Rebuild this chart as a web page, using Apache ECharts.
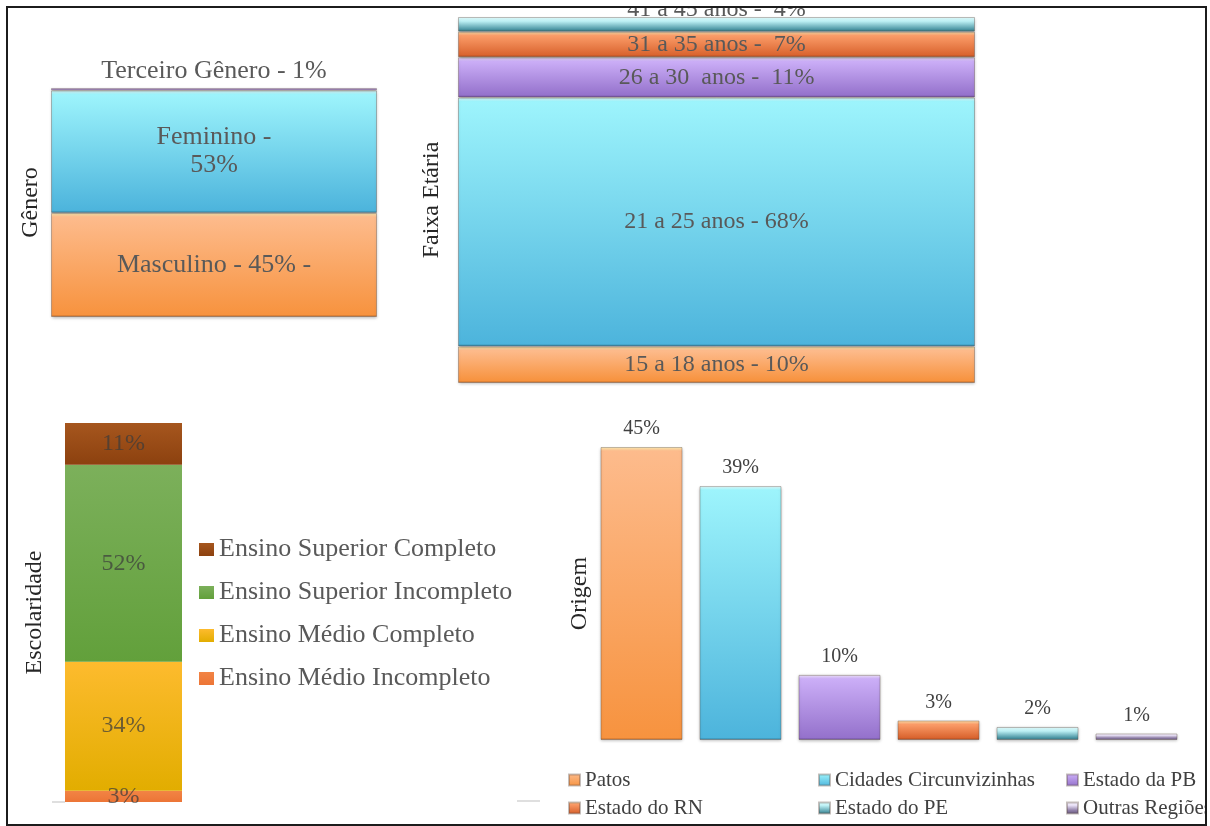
<!DOCTYPE html>
<html>
<head>
<meta charset="utf-8">
<script src="https://cdn.jsdelivr.net/npm/echarts@6/dist/echarts.min.js"></script>
<style>
  html, body { margin: 0; padding: 0; background: #ffffff; }
  #painel { width: 1210px; height: 826px; }
</style>
</head>
<body>
<div id="painel"></div>
<script>
// ---- Gênero (empilhado, de baixo para cima)
const generoCategorias = ['Masculino', 'Feminino', 'Terceiro Gênero'];
const generoValores = [45, 53, 1];
const generoRotulos = ['Masculino - {c}% -', 'Feminino -\n{c}%', 'Terceiro Gênero - {c}%'];

// ---- Faixa etária (empilhado, de baixo para cima)
const faixaCategorias = ['15 a 18 anos', '21 a 25 anos', '26 a 30 anos', '31 a 35 anos', '41 a 45 anos'];
const faixaValores = [10, 68, 11, 7, 4];
const faixaRotulos = ['15 a 18 anos - {c}%', '21 a 25 anos - {c}%', '26 a 30  anos -  {c}%', '31 a 35 anos -  {c}%', '41 a 45 anos -  {c}%'];

// ---- Escolaridade (empilhado, de baixo para cima)
const escolaridadeCategorias = ['Ensino Médio Incompleto', 'Ensino Médio Completo', 'Ensino Superior Incompleto', 'Ensino Superior Completo'];
const escolaridadeValores = [3, 34, 52, 11];

// ---- Origem (colunas)
const origemCategorias = ['Patos', 'Cidades Circunvizinhas', 'Estado da PB', 'Estado do RN', 'Estado do PE', 'Outras Regiões'];
const origemValores = [45, 39, 10, 3, 2, 1];

const SERIF = '"Liberation Serif", "DejaVu Serif", serif';
const soma = arr => arr.reduce((a, b) => a + b, 0);

// Áreas de plotagem
const GRADES = [
  { left: 51, top: 88, width: 326, height: 229 },
  { left: 458, top: 17, width: 517, height: 366 },
  { left: 65, top: 423, width: 117, height: 379 },
  { left: 592, top: 447, width: 594, height: 293 }
];
const maxGenero = soma(generoValores);
const maxFaixa = soma(faixaValores);
const maxEscolaridade = soma(escolaridadeValores);
const maxOrigem = Math.max(...origemValores);

// Tons com brilho no topo e borda escura na base
const TONS = {
  laranja:  ['#FFF2B4', '#FDBB8C', '#F7933F', '#C06A25'],
  ciano:    ['#E6FFFF', '#9DF4FC', '#4DB4DC', '#2F7F9E'],
  roxo:     ['#F2E6FF', '#CBAEF7', '#9572CC', '#6A4C96'],
  coral:    ['#FFE2AC', '#FB9C68', '#DA6530', '#A9481C'],
  petroleo: ['#E6FEFF', '#BFF2F6', '#4F98A6', '#36707C'],
  lavanda:  ['#FBF8FF', '#E8E0F6', '#8D7CA5', '#62557A']
};
// Gradiente com bisel de poucos pixels, independente da altura da barra
function bisel(t, alturaPx) {
  const topo = Math.min(0.3, 4 / Math.max(alturaPx, 1));
  const base = Math.max(0.7, 1 - 2.5 / Math.max(alturaPx, 1));
  return new echarts.graphic.LinearGradient(0, 0, 0, 1, [
    { offset: 0, color: t[0] },
    { offset: topo, color: t[1] },
    { offset: base, color: t[2] },
    { offset: 1, color: t[3] }
  ]);
}
function plano(topo, base) {
  return new echarts.graphic.LinearGradient(0, 0, 0, 1, [
    { offset: 0, color: topo }, { offset: 1, color: base }
  ]);
}
const estiloBarra = cor => ({
  color: cor,
  borderColor: 'rgba(90,70,60,0.35)',
  borderWidth: 1,
  shadowColor: 'rgba(0,0,0,0.25)',
  shadowBlur: 3,
  shadowOffsetY: 1
});

function eixoCategoria(gridIndex, data) {
  return { type: 'category', gridIndex, data, show: false, boundaryGap: true };
}
function eixoValor(gridIndex, max, name, nameGap) {
  return {
    type: 'value', gridIndex, min: 0, max,
    name, nameLocation: 'middle', nameRotate: 90, nameGap,
    nameTextStyle: { fontFamily: SERIF, fontSize: 24, color: '#262626' },
    axisLine: { show: false }, axisTick: { show: false },
    axisLabel: { show: false }, splitLine: { show: false }
  };
}

const series = [];

// Gênero
const generoTons = [TONS.laranja, TONS.ciano, TONS.roxo];
generoCategorias.forEach((nome, i) => {
  const px = generoValores[i] * GRADES[0].height / maxGenero;
  series.push({
    type: 'bar', name: nome, xAxisIndex: 0, yAxisIndex: 0, stack: 'genero',
    barWidth: '100%', data: [generoValores[i]],
    itemStyle: estiloBarra(bisel(generoTons[i], px)),
    label: {
      show: true, position: i === 2 ? 'top' : 'inside', distance: 3,
      formatter: generoRotulos[i], fontFamily: SERIF, fontSize: 26,
      lineHeight: 28, color: '#595959'
    }
  });
});

// Faixa etária
const faixaTons = [TONS.laranja, TONS.ciano, TONS.roxo, TONS.coral, TONS.petroleo];
faixaCategorias.forEach((nome, i) => {
  const px = faixaValores[i] * GRADES[1].height / maxFaixa;
  series.push({
    type: 'bar', name: nome, xAxisIndex: 1, yAxisIndex: 1, stack: 'faixa',
    barWidth: '100%', data: [faixaValores[i]],
    itemStyle: estiloBarra(bisel(faixaTons[i], px)),
    label: {
      show: true, position: 'inside', offset: i === 4 ? [0, -15] : [0, 0],
      formatter: faixaRotulos[i], fontFamily: SERIF, fontSize: 24, color: '#595959'
    }
  });
});

// Escolaridade
const escolaridadeCores = [
  plano('#F28445', '#EC7536'),
  plano('#FDBB2E', '#E2AD00'),
  plano('#7CB05B', '#62A03B'),
  plano('#A6561E', '#8C410F')
];
escolaridadeCategorias.forEach((nome, i) => {
  series.push({
    type: 'bar', name: nome, xAxisIndex: 2, yAxisIndex: 2, stack: 'escolaridade',
    barWidth: '100%', data: [escolaridadeValores[i]],
    itemStyle: { color: escolaridadeCores[i] },
    label: {
      show: true, position: 'inside', formatter: '{c}%',
      fontFamily: SERIF, fontSize: 24, color: 'rgba(60,60,60,0.72)'
    }
  });
});

// Origem
const origemTons = [TONS.laranja, TONS.ciano, TONS.roxo, TONS.coral, TONS.petroleo, TONS.lavanda];
origemCategorias.forEach((nome, i) => {
  const px = origemValores[i] * GRADES[3].height / maxOrigem;
  series.push({
    type: 'bar', name: nome, xAxisIndex: 3, yAxisIndex: 3,
    barWidth: 82, barGap: '-100%',
    data: origemCategorias.map((_, j) => (j === i ? origemValores[i] : '-')),
    itemStyle: estiloBarra(bisel(origemTons[i], px)),
    label: {
      show: true, position: 'top', distance: 8, formatter: '{c}%',
      fontFamily: SERIF, fontSize: 20, color: '#404040'
    }
  });
});

const legendaOrigem = (nomes, left) => ({
  data: nomes, orient: 'vertical', left, top: 764,
  icon: 'rect', itemWidth: 11, itemHeight: 11, itemGap: 6,
  selectedMode: false,
  textStyle: { fontFamily: SERIF, fontSize: 21, lineHeight: 22, color: '#404040' }
});

const option = {
  animation: false,
  backgroundColor: '#ffffff',
  grid: GRADES,
  xAxis: [
    eixoCategoria(0, ['']),
    eixoCategoria(1, ['']),
    eixoCategoria(2, ['']),
    eixoCategoria(3, origemCategorias)
  ],
  yAxis: [
    eixoValor(0, maxGenero, 'Gênero', 8),
    eixoValor(1, maxFaixa, 'Faixa Etária', 14),
    eixoValor(2, maxEscolaridade, 'Escolaridade', 18),
    eixoValor(3, maxOrigem, 'Origem', 0)
  ],
  legend: [
    {
      data: escolaridadeCategorias.slice().reverse(),
      orient: 'vertical', left: 194, top: 531,
      icon: 'rect', itemWidth: 15, itemHeight: 13, itemGap: 16,
      selectedMode: false,
      textStyle: { fontFamily: SERIF, fontSize: 26, lineHeight: 27, color: '#595959' }
    },
    legendaOrigem(['Patos', 'Estado do RN'], 563),
    legendaOrigem(['Cidades Circunvizinhas', 'Estado do PE'], 813),
    legendaOrigem(['Estado da PB', 'Outras Regiões'], 1061)
  ],
  graphic: [
    // linha-base discreta do gráfico de escolaridade
    { type: 'line', shape: { x1: 52, y1: 802, x2: 65, y2: 802 }, style: { stroke: '#d4d4d4', lineWidth: 1.5 } },
    { type: 'line', shape: { x1: 517, y1: 801, x2: 540, y2: 801 }, style: { stroke: '#d4d4d4', lineWidth: 1.5 } },
    // moldura
    { type: 'rect', z: 100, shape: { x: 0, y: 0, width: 1210, height: 7 }, style: { fill: '#ffffff' } },
    { type: 'rect', z: 100, shape: { x: 1206, y: 0, width: 4, height: 826 }, style: { fill: '#ffffff' } },
    { type: 'rect', z: 101, shape: { x: 7, y: 7, width: 1199, height: 818 }, style: { fill: 'none', stroke: '#1c1c1c', lineWidth: 2 } }
  ],
  series
};

const grafico = echarts.init(document.getElementById('painel'), null, { renderer: 'canvas' });
grafico.setOption(option);
</script>
</body>
</html>
